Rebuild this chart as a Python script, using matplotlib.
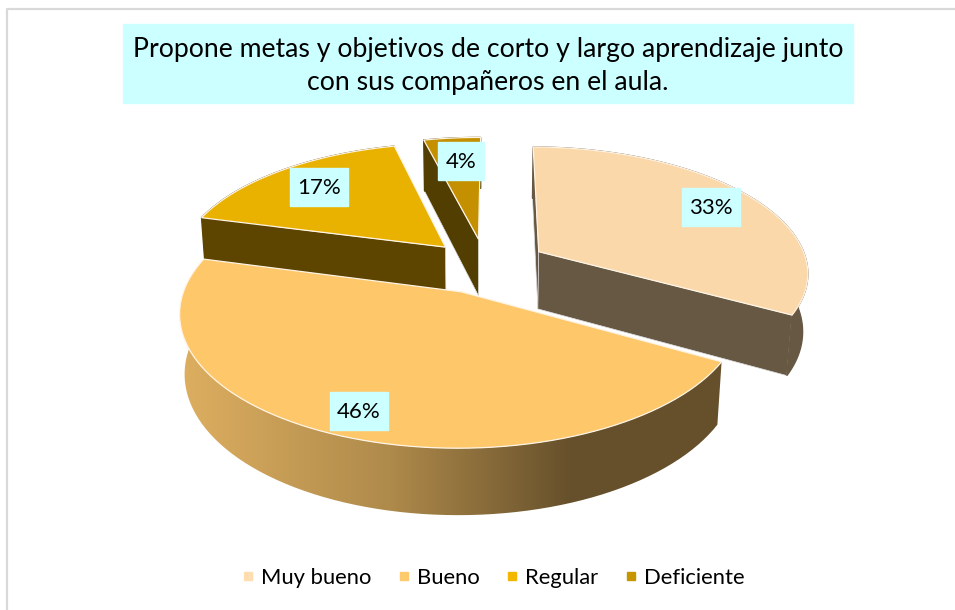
import numpy as np
import matplotlib
matplotlib.use('Agg')
import matplotlib.pyplot as plt
from matplotlib.colors import LinearSegmentedColormap
from matplotlib.patches import Patch, Rectangle

plt.rcParams['font.family'] = ['Lato', 'DejaVu Sans']

# data
categories = ['Muy bueno', 'Bueno', 'Regular', 'Deficiente']
values = [33, 46, 17, 4]
title_text = 'Propone metas y objetivos de corto y largo aprendizaje junto\ncon sus compañeros en el aula.'

# style
explode = [0.265, 0.20, 0.24, 0.24]
shift_x = [-2, 2, 10, 6]
top_colors = ['#FBD8AA', '#FDC76A', '#EAB200', '#C49000']
wall_colors = ['#675843', '#66502B', '#5D4500', '#523E00']
legend_colors = ['#FFDDB0', '#FFC96D', '#F3B700', '#C69500']
label_xy = [(711, 207), (359, 411), (319, 187), (461, 161)]
visible_faces = [[0, 1], [], [0], [0]]
start_angle = 0.5
x0, y0, Rx, Ry, H = 480, 268, 270, 125, 59
k, m = 0.15, 0.016


def project(u, v, z=0.0):
    d = 1 - k * np.asarray(v) + m * z
    return x0 + Rx * np.asarray(u) / d, y0 + (Ry * np.asarray(v) + H * z) / d


def slice_points(a, b, e):
    # angles clockwise from the top, v points at the viewer
    mid = np.radians((a + b) / 2)
    ou, ov = e * np.sin(mid), -e * np.cos(mid)
    t = np.radians(np.linspace(a, b, 80))
    return ou, ov, ou + np.sin(t), ov - np.cos(t)


fig = plt.figure(figsize=(9.55, 6.1), dpi=100)
ax = fig.add_axes([0, 0, 1, 1])

edges = start_angle + np.concatenate([[0], np.cumsum(values)]) * 3.6
wall_cmap = LinearSegmentedColormap.from_list(
    'w', [(0, '#DDAE60'), (0.38, '#AE8A4B'), (0.71, '#66502B'), (1, '#66502B')])

# back to front
for i in [3, 2, 0, 1]:
    ou, ov, au, av = slice_points(edges[i], edges[i + 1], explode[i])
    ou = ou + shift_x[i] / Rx
    au = au + shift_x[i] / Rx
    for f in visible_faces[i]:
        eu, ev = (au[0], av[0]) if f == 0 else (au[-1], av[-1])
        px, py = project([ou, eu], [ov, ev], 0)
        qx, qy = project([ou, eu], [ov, ev], 1)
        ax.fill([px[0], px[1], qx[1], qx[0]], [py[0], py[1], qy[1], qy[0]],
                color=wall_colors[i], lw=0.5, ec='#DDDDDD', zorder=2 + i * 0.01)
    tx, ty = project(au, av, 0)
    bx, by = project(au, av, 1)
    wx = np.concatenate([tx, bx[::-1]])
    wy = np.concatenate([ty, by[::-1]])
    if i == 1:
        poly = ax.fill(wx, wy, color='none', zorder=3)[0]
        im = ax.imshow(np.linspace(0, 1, 256).reshape(1, -1), cmap=wall_cmap, aspect='auto',
                       extent=(182, 730, 530, 300), zorder=3)
        im.set_clip_path(poly)
    else:
        ax.fill(wx, wy, color=wall_colors[i], zorder=3 + i * 0.01)
    cx, cy = project(ou, ov, 0)
    ax.fill(np.r_[cx, tx], np.r_[cy, ty], fc=top_colors[i], ec='#FFF4E4', lw=0.9, zorder=4 + i * 0.01)

# data labels
for v, (lx, ly) in zip(values, label_xy):
    w = 58 if v != 4 else 46
    ax.add_patch(Rectangle((lx - w / 2, ly - 19), w, 38, color='#CCFFFF', zorder=5))
    ax.text(lx, ly + 1.5, f'{v}%', ha='center', va='center', fontsize=16, color='black', zorder=6)

# title
ax.add_patch(Rectangle((123, 24), 730, 79, color='#CCFFFF', zorder=5))
ax.text(488, 66, title_text, ha='center', va='center', fontsize=19.2, linespacing=1.36, zorder=6)

# frame
ax.plot([7, 7, 955], [610, 9, 9], color='#D9D9D9', lw=1.6, zorder=1)

handles = [Patch(color=c, label=n) for c, n in zip(legend_colors, categories)]
ax.legend(handles=handles, ncol=4, frameon=False, loc='center', bbox_to_anchor=(494 / 955, 1 - 578 / 610),
          fontsize=15.8, handlelength=0.365, handleheight=0.18, handletextpad=0.41, columnspacing=1.3)

ax.set_xlim(0, 955)
ax.set_ylim(610, 0)
ax.axis('off')
fig.savefig('out.png', dpi=100)
